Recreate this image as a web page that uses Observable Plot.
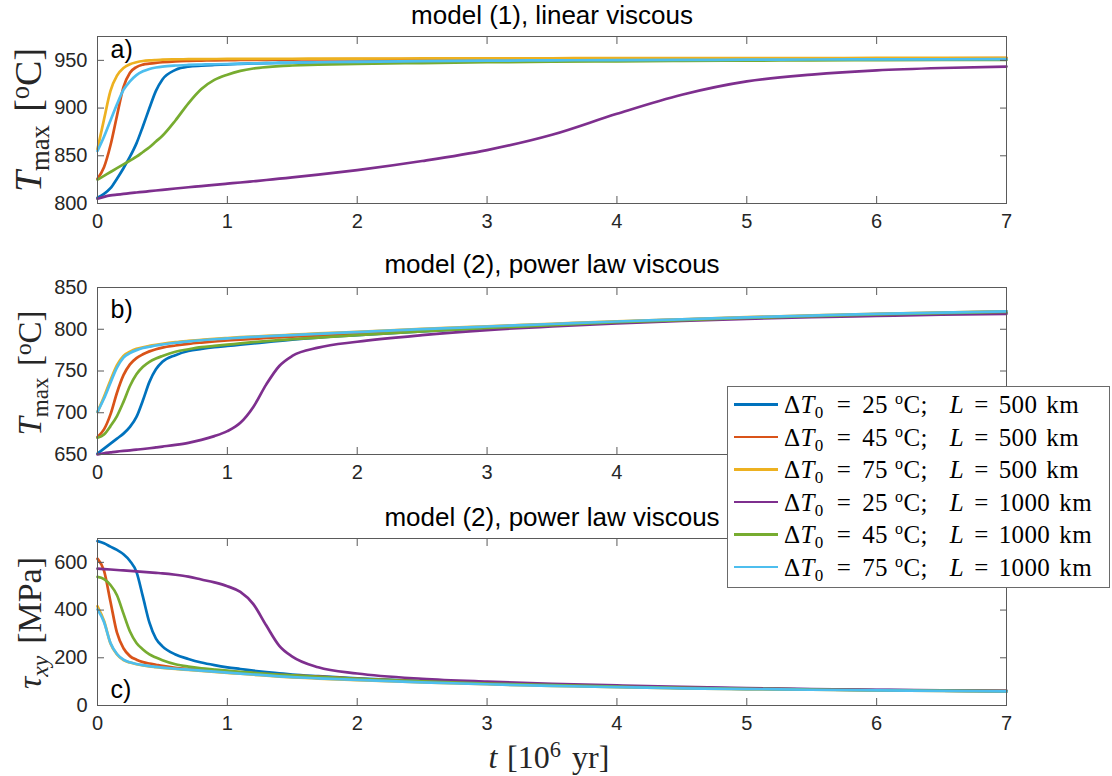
<!DOCTYPE html>
<html>
<head>
<meta charset="utf-8">
<script src="https://cdn.jsdelivr.net/npm/d3@7"></script>
<script src="https://cdn.jsdelivr.net/npm/@observablehq/plot@0.6"></script>
<style>
  body { margin: 0; background: #fff; }
  #fig { position: relative; width: 1112px; height: 776px; overflow: hidden; background: #fff;
         font-family: "Liberation Sans", Arial, sans-serif; }
  .pl { position: absolute; left: 0; }
  .serif { font-family: "Liberation Serif", "Times New Roman", serif; color: #262626; }
  .ylab { position: absolute; white-space: nowrap; line-height: 1;
          transform: translate(-50%, -50%) rotate(-90deg); }
  .xlab { position: absolute; white-space: nowrap; line-height: 1; transform: translate(-50%, -50%); }
  .sub { position: relative; }
  .sup { position: relative; }
  #legend { position: absolute; left: 727px; top: 386px; width: 381px; height: 200px;
            background: #fff; border: 1px solid #6a6a6a; z-index: 10; }
  .lrow { position: absolute; left: 0; height: 25px; width: 100%; }
  .lsw { position: absolute; left: 6px; width: 44px; height: 2.6px; }
  .ltx { position: absolute; left: 56px; top: 0; font-size: 25px; line-height: 25px; white-space: nowrap;
         color: #000; letter-spacing: 0.4px; }
</style>
</head>
<body>
<div id="fig"></div>
<script>
// ---- data ----
const tGrid = [0, 0.05, 0.1, 0.15, 0.2, 0.25, 0.3, 0.35, 0.4, 0.45, 0.5, 0.6, 0.7, 0.8, 0.9, 1.0,
               1.1, 1.2, 1.3, 1.4, 1.5, 1.7, 2, 2.5, 3, 3.5, 4, 4.5, 5, 5.5, 6, 6.5, 7];
const xTicks = [0, 1, 2, 3, 4, 5, 6, 7];
const xTickLabelsB = [0, 1, 2, 3, 4]; // 5, 6, 7 are hidden behind the legend in the reference

const seriesDT = [25, 45, 75, 25, 45, 75];
const seriesL = [500, 500, 500, 1000, 1000, 1000];
const colors = ["#0072BD", "#D95319", "#EDB120", "#7E2F8E", "#77AC30", "#4DBEEE"];

// panel a) model (1), linear viscous : T_max [°C]
const aT25L500 = [806,810,816,826,837,849,863,881,900,918,930,940,943.5,944.5,945.2,945.8,946.3,946.7,947,947.3,947.5,948,948.5,949,949.5,950,950.3,950.6,950.8,951,951.2,951.4,951.5];
const aT45L500 = [826,838,861,892,922,937,943,945.5,946.5,947.3,948,949,949.5,949.8,950,950.2,950.4,950.5,950.6,950.7,950.8,951,951.2,951.4,951.6,951.8,952,952,952.1,952.1,952.2,952.2,952.3];
const aT75L500 = [857,888,918,934,942,946,948,949.3,950,950.4,950.7,951,951.2,951.3,951.4,951.5,951.5,951.6,951.6,951.7,951.7,951.8,951.9,952,952.1,952.2,952.3,952.3,952.4,952.4,952.5,952.5,952.5];
const aT25L1000 = [805,807,808.5,809.3,810,810.8,811.5,812.2,812.9,813.6,814.3,815.7,817,818.3,819.6,820.8,822,823.3,824.6,826,827.3,830.2,835,844.5,856,872,894,914,928,935,939.5,942,943.5];
const aT45L1000 = [825,829,833,837,841,845,849,854,859,865,871,887,905,920,929.5,935,939,941.5,943,944,944.6,945.5,946.3,947.2,948,948.6,949,949.4,949.7,950,950.2,950.4,950.5];
const aT75L1000 = [855,870,887,904,919,928,934.5,938.5,941,942.5,943.5,944.6,945.2,945.6,945.9,946.2,946.5,946.8,947,947.3,947.5,948,948.5,949.2,949.7,950,950.3,950.5,950.7,950.9,951,951.1,951.2];
const aYTicks = [800, 850, 900, 950];

// panel b) model (2), power law viscous : T_max [°C]
const bT25L500 = [651,657,663,669,675,683,695,715,737,752,761,769,774,776.5,778.5,780,781.5,783,784.5,786,787.5,790,793,797.5,801.5,805,808,811,813.5,815.5,817.5,819,820.5];
const bT45L500 = [671,680,698,724,745,758,765.5,770,773.5,776,778,780.5,782.5,784,785.3,786.5,787.5,788.5,789.5,790.3,791,792.5,795,799,802.5,806,809,811.5,814,816,818,819.5,821];
const bT75L500 = [701,719,739,757,768,773,776.5,778.5,780,781.3,782.5,784.5,786,787.3,788.5,789.5,790.5,791.3,792.1,792.8,793.5,795,797,800.5,803.5,806.5,809.5,812,814.5,816.5,818.5,820,821.5];
const bT25L1000 = [650,651.5,652.5,653.5,654.3,655,655.8,656.6,657.5,658.5,659.5,661.5,664,667.5,672,678,688,707,734,756,768,778,785,793,799,803.5,807,810,812.5,814.5,816,817.5,818.5];
const bT45L1000 = [670,674,684,696,713,732,746,755,761,765,768,773,776,778.5,780,781.5,783,784.5,785.8,787,788,790,793,797.5,801.5,805,808.5,811,813.5,815.7,817.7,819.3,820.8];
const bT75L1000 = [701,717,736,754,766,771.5,775,777.5,779,780.5,781.7,783.8,785.4,786.8,788,789,790,790.8,791.6,792.3,793,794.5,796.6,800.2,803.3,806.3,809.3,811.8,814.3,816.4,818.4,820,821.5];
const bYTicks = [650, 700, 750, 800, 850];

// panel c) model (2), power law viscous : tau_xy [MPa]
const cT25L500 = [689,680,666,652,634,606,560,455,347,280,248,214,195,180,169,160,153,146,140,135,130,123,114,102,93,86,80,75,71,68,65,62,60];
const cT45L500 = [615,565,435,305,240,207,192,182,176,171,166,158,153,149,146,143,139,136,132,129,126,121,112,101,92,85,79,74,70,67,64,62,60];
const cT75L500 = [416,355,260,214,190,180,173,168,164,161,158,153,149,145,141,137,133,129,125,121,118,113,106,97,89,82,77,72,69,66,63,61,59];
const cT25L1000 = [574,572,570,568,566,564,562,560,558,556,554,548,540,528,516,500,476,425,335,250,205,160,134,112,100,91,84,78,73,69,66,63,61];
const cT45L1000 = [539,530,505,462,385,310,262,235,214,201,190,173,163,156,151,146,141,137,133,129,126,120,112,101,92,85,79,74,70,67,64,62,60];
const cT75L1000 = [403,350,262,216,192,181,174,169,165,162,159,154,150,146,142,138,134,130,126,122,119,114,107,97,89,82,77,72,69,66,63,61,59];
const cYTicks = [0, 200, 400, 600];

const titles = ["model (1), linear viscous", "model (2), power law viscous", "model (2), power law viscous"];
const letters = ["a)", "b)", "c)"];

// ---- drawing ----
const fig = document.getElementById("fig");
const AX = "#5a5a5a";
const TXT = "#262626";
const fmt = d3.format("d");

function makePanel({series, yDomain, yTicks, xLabels, height, mt, mb, title, titleDy, letter, letterAnchor, letterDy}) {
  return Plot.plot({
    width: 1112, height,
    marginLeft: 97, marginRight: 106, marginTop: mt, marginBottom: mb,
    x: {domain: [0, 7], label: null},
    y: {domain: yDomain, label: null},
    style: {fontFamily: '"Liberation Sans", Arial, sans-serif', fontSize: "20px", color: TXT,
            background: "transparent", overflow: "visible"},
    marks: [
      ...series.map((s, i) => Plot.line(tGrid.map((t, j) => [t, s[j]]),
          {x: d => d[0], y: d => d[1], stroke: colors[i], strokeWidth: 2.7, curve: "monotone-x"})),
      Plot.frame({stroke: AX, strokeWidth: 1}),
      // tick marks (inward, all four sides)
      Plot.axisX({anchor: "bottom", ticks: xTicks, tickSize: -7, stroke: AX, fill: "none", label: null}),
      Plot.axisX({anchor: "top", ticks: xTicks, tickSize: -7, stroke: AX, fill: "none", label: null}),
      Plot.axisY({anchor: "left", ticks: yTicks, tickSize: -7, stroke: AX, fill: "none", label: null}),
      Plot.axisY({anchor: "right", ticks: yTicks, tickSize: -7, stroke: AX, fill: "none", label: null}),
      // tick labels
      Plot.axisX({anchor: "bottom", ticks: xLabels, tickSize: 0, tickPadding: 10, stroke: "none", fill: TXT,
                  fontSize: 20, tickFormat: fmt, label: null}),
      Plot.axisY({anchor: "left", ticks: yTicks, tickSize: 0, tickPadding: 10, stroke: "none", fill: TXT,
                  fontSize: 20, tickFormat: fmt, label: null}),
      Plot.text([title], {text: d => d, frameAnchor: "top", dy: titleDy, fontSize: 26, fill: "#000", lineAnchor: "middle"}),
      Plot.text([letter], {text: d => d, frameAnchor: letterAnchor, dx: 13, dy: letterDy, textAnchor: "start",
                           lineAnchor: letterAnchor.startsWith("top") ? "top" : "bottom", fontSize: 25, fill: "#000"})
    ]
  });
}

const panels = [
  {top: 0, series: [aT25L500, aT45L500, aT75L500, aT25L1000, aT45L1000, aT75L1000], yDomain: [800, 975], yTicks: aYTicks,
   xLabels: xTicks, height: 240, mt: 36, mb: 37, titleDy: -21, letterAnchor: "top-left", letterDy: 4},
  {top: 250, series: [bT25L500, bT45L500, bT75L500, bT25L1000, bT45L1000, bT75L1000], yDomain: [650, 850], yTicks: bYTicks,
   xLabels: xTickLabelsB, height: 240, mt: 37, mb: 36, titleDy: -23, letterAnchor: "top-left", letterDy: 13},
  {top: 500, series: [cT25L500, cT45L500, cT75L500, cT25L1000, cT45L1000, cT75L1000], yDomain: [0, 700], yTicks: cYTicks,
   xLabels: xTicks, height: 276, mt: 38, mb: 71, titleDy: -21, letterAnchor: "bottom-left", letterDy: -8}
];

panels.forEach((p, k) => {
  const svg = makePanel({...p, title: titles[k], letter: letters[k]});
  svg.classList.add("pl");
  svg.style.top = p.top + "px";
  fig.appendChild(svg);
});

// axis labels (LaTeX-like)
function addDiv(cls, html, x, y, size) {
  const d = document.createElement("div");
  d.className = cls + " serif";
  d.innerHTML = html;
  d.style.left = x + "px";
  d.style.top = y + "px";
  d.style.fontSize = size + "px";
  fig.appendChild(d);
  return d;
}
const tmaxLabel = '<i>T</i><span class="sub" style="font-size:0.7em;top:0.3em">max</span>' +
  '<span style="margin-left:0.35em">[</span><span class="sup" style="font-size:0.7em;top:-0.45em">o</span>C]';
addDiv("ylab", tmaxLabel, 28, 120, 38);
addDiv("ylab", tmaxLabel, 30, 373, 33);
addDiv("ylab", '<i>τ</i><span class="sub" style="font-size:0.7em;top:0.3em"><i>xy</i></span>' +
  '<span style="margin-left:0.35em">[MPa]</span>', 30, 623, 34);
addDiv("xlab", '<i>t</i><span style="margin-left:0.3em">[10</span><span class="sup" style="font-size:0.7em;top:-0.5em">6</span>' +
  '<span style="margin-left:0.35em">yr]</span>', 549, 757, 32);

// legend
const legend = document.createElement("div");
legend.id = "legend";
fig.appendChild(legend);
seriesDT.forEach((dt, i) => {
  const cy = 17.5 + 32.5 * i;
  const row = document.createElement("div");
  row.className = "lrow";
  row.style.top = (cy - 12.5) + "px";
  const sw = document.createElement("div");
  sw.className = "lsw";
  sw.style.background = colors[i];
  sw.style.top = (12.5 - 1.3) + "px";
  const tx = document.createElement("div");
  tx.className = "ltx serif";
  tx.style.color = "#000";
  tx.innerHTML = 'Δ<i>T</i><span class="sub" style="font-size:17px;top:5px">0</span>' +
    '<span style="margin:0 11px 0 13px">=</span>' + dt +
    '<span class="sup" style="font-size:16px;top:-9px;margin-left:7px">o</span>C;' +
    '<span style="margin-left:22px"><i>L</i></span>' +
    '<span style="margin:0 10px 0 10px">=</span>' + seriesL[i] + '<span style="margin-left:9px">km</span>';
  row.appendChild(sw);
  row.appendChild(tx);
  legend.appendChild(row);
});
</script>
</body>
</html>
